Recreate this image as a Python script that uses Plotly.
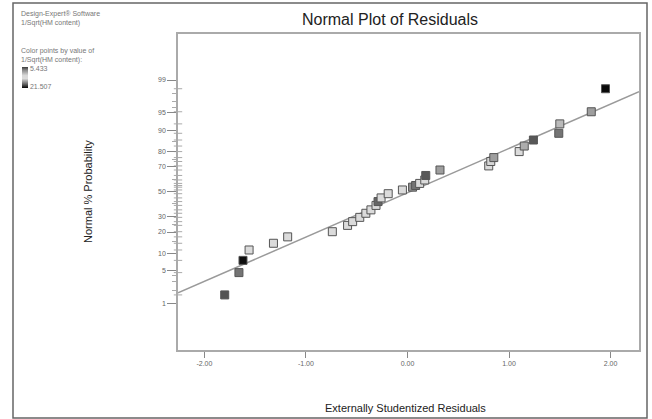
import plotly.graph_objects as go
from statistics import NormalDist

nd = NormalDist()

# ---- data ----
residuals = [-1.80, -1.66, -1.62, -1.56, -1.32, -1.18, -0.74, -0.59, -0.54, -0.47,
             -0.41, -0.36, -0.31, -0.29, -0.26, -0.19, -0.05, 0.05, 0.08, 0.12,
             0.17, 0.18, 0.32, 0.80, 0.82, 0.85, 1.10, 1.15, 1.24, 1.49,
             1.50, 1.81, 1.95]
prob_pct = [1.57, 4.58, 7.6, 11.2, 14.1, 17.3, 20.2, 24.1, 26.6, 29.6,
            32.6, 35.2, 38.7, 41.8, 44.8, 48.3, 51.4, 53.7, 55.1, 56.8,
            59.6, 63.2, 67.4, 70.4, 73.5, 76.1, 79.8, 82.9, 85.9, 88.8,
            92.1, 95.2, 98.4]
hm_value = [6.2, 18.0, 21.2, 13.5, 13.5, 13.5, 13.5, 13.5, 13.5, 13.5,
            13.5, 13.5, 13.5, 18.5, 13.5, 13.5, 13.5, 17.0, 18.0, 13.5,
            13.5, 19.0, 16.5, 13.5, 14.5, 16.5, 13.5, 16.0, 19.0, 18.0,
            15.5, 16.5, 21.4]
color_min, color_max = 5.433, 21.507

fit_x = [-2.26, 2.28]
fit_pct = [1.74, 98.14]

prob_ticks = [1, 5, 10, 20, 30, 50, 70, 80, 90, 95, 99]
prob_minor = [2, 3, 4, 15, 25, 40, 60, 75, 85, 96, 97, 98]
x_ticks = [-2, -1, 0, 1, 2]
x_ticktext = ["-2.00", "-1.00", "0.00", "1.00", "2.00"]

x_range = [-2.26, 2.28]
y_range = [-3.30, 3.285]

z = lambda p: nd.inv_cdf(p / 100.0)

fig = go.Figure()

# reference line
fig.add_trace(go.Scatter(
    x=fit_x, y=[z(p) for p in fit_pct], mode="lines",
    line=dict(color="#9a9a9a", width=1.5), hoverinfo="skip", showlegend=False))

# rug of probabilities along y axis
fig.add_trace(go.Scatter(
    x=[x_range[0]] * len(prob_pct), y=[z(p) for p in prob_pct], mode="markers",
    marker=dict(symbol="line-ew", size=6, line=dict(color="#aaaaaa", width=1)),
    cliponaxis=False, hoverinfo="skip", showlegend=False))

# points
fig.add_trace(go.Scatter(
    x=residuals, y=[z(p) for p in prob_pct], mode="markers",
    marker=dict(
        symbol="square", size=8,
        color=[-v for v in hm_value], cmin=-color_max, cmax=-color_min,
        colorscale=[[0.0, "#050505"], [0.15, "#555555"], [0.45, "#dcdcdc"],
                    [0.6, "#d8d8d8"], [0.85, "#8a8a8a"], [1.0, "#3a3a3a"]],
        line=dict(color="#555555", width=1),
        showscale=True,
        colorbar=dict(
            x=(22 - 178) / 461, xanchor="left", xref="paper",
            y=(350 - 67) / 316, yanchor="top", yref="paper",
            lenmode="pixels", len=21, thickness=6, outlinewidth=0,
            tickvals=[-color_max + 1.2, -color_min - 1.2],
            ticktext=[f"{color_max:.3f}", f"{color_min:.3f}"],
            ticks="", tickfont=dict(size=7, color="#777777"),
            ypad=0, xpad=0,
        ),
    ),
    showlegend=False))

fig.update_layout(
    width=652, height=419,
    margin=dict(l=178, r=13, t=34, b=69, autoexpand=False),
    paper_bgcolor="white", plot_bgcolor="white",
    font=dict(family="Liberation Sans, Arial, sans-serif"),
    xaxis=dict(
        range=x_range, tickvals=x_ticks, ticktext=x_ticktext,
        showgrid=False, zeroline=False, ticks="outside", ticklen=6,
        tickcolor="#888888", tickfont=dict(size=7, color="#666666"),
        showline=True, linecolor="#aaaaaa", linewidth=1.5, mirror=True,
    ),
    yaxis=dict(
        range=y_range, tickvals=[z(p) for p in prob_ticks],
        ticktext=[str(p) for p in prob_ticks],
        showgrid=False, zeroline=False, ticks="outside", ticklen=9,
        tickcolor="#888888", tickfont=dict(size=7, color="#666666"),
        showline=True, linecolor="#aaaaaa", linewidth=1.5, mirror=True,
        minor=dict(tickvals=[z(p) for p in prob_minor], ticks="outside",
                   ticklen=4, tickcolor="#aaaaaa"),
    ),
    annotations=[
        dict(text="Normal Plot of Residuals", x=(390 - 178) / 461, y=(350 - 20) / 316,
             xref="paper", yref="paper", showarrow=False,
             xanchor="center", yanchor="middle",
             font=dict(size=16, color="#222222")),
        dict(text="Externally Studentized Residuals", x=(405 - 178) / 461,
             y=(350 - 408) / 316, xref="paper", yref="paper", showarrow=False,
             xanchor="center", yanchor="middle",
             font=dict(size=11, color="#222222")),
        dict(text="Normal % Probability", x=(88 - 178) / 461, y=(350 - 192) / 316,
             xref="paper", yref="paper", showarrow=False, textangle=-90,
             xanchor="center", yanchor="middle",
             font=dict(size=11, color="#222222")),
        dict(text="Design-Expert® Software<br>1/Sqrt(HM content)",
             x=(19 - 178) / 461, y=(350 - 8) / 316, xref="paper", yref="paper",
             xanchor="left", yanchor="top", align="left", showarrow=False,
             font=dict(size=7, color="#777777")),
        dict(text="Color points by value of<br>1/Sqrt(HM content):",
             x=(19 - 178) / 461, y=(350 - 45) / 316, xref="paper", yref="paper",
             xanchor="left", yanchor="top", align="left", showarrow=False,
             font=dict(size=7, color="#777777")),
    ],
    shapes=[
        dict(type="rect", xref="paper", yref="paper",
             x0=(13 - 178) / 461, x1=(647 - 178) / 461,
             y0=(350 - 418) / 316, y1=(350 - 3) / 316,
             line=dict(color="#666666", width=1.5)),
    ],
)

fig.write_html("out.html", config={"displayModeBar": False},
               post_script="document.body.style.margin='0';")
